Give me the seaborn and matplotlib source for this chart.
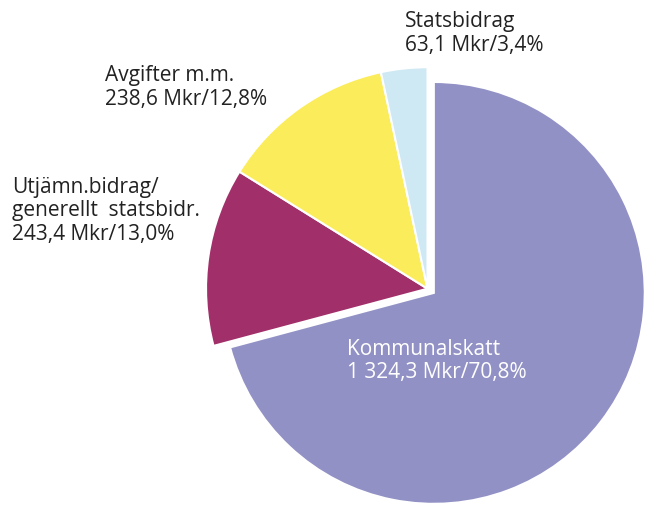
import matplotlib
matplotlib.use("Agg")
import matplotlib.pyplot as plt
import seaborn as sns

# Intäkter (Mkr) och andel
categories = ["Kommunalskatt", "Utjämn.bidrag/\ngenerellt  statsbidr.", "Avgifter m.m.", "Statsbidrag"]
values = [1324.3, 243.4, 238.6, 63.1]
shares = ["70,8%", "13,0%", "12,8%", "3,4%"]
value_labels = ["1 324,3", "243,4", "238,6", "63,1"]
colors = ["#9191c5", "#a12f69", "#fbec5c", "#cfe9f4"]

sns.set_style("white")
plt.rcParams['font.family'] = ['Open Sans', 'DejaVu Sans']

fig = plt.figure(figsize=(6.48, 5.05), dpi=100)
ax = fig.add_axes([0.344, 0.002, 0.651, 0.836])
pal = sns.color_palette(colors)

# stor sektor
big, _ = ax.pie(values, colors=pal, startangle=90, counterclock=False,
                wedgeprops=dict(edgecolor="white", linewidth=1.5))
# små sektorer, utdragna som en grupp
small, _ = ax.pie(values, colors=pal, startangle=90, counterclock=False,
                  radius=1.05, center=(-0.03, 0.02),
                  wedgeprops=dict(edgecolor="white", linewidth=1.5))
for i, w in enumerate(big):
    w.set_visible(i == 0)
    w.set_clip_on(False)
for i, w in enumerate(small):
    w.set_visible(i != 0)
    w.set_clip_on(False)

ax.set_xlim(-1, 1)
ax.set_ylim(-1, 1)
ax.set_aspect("equal")
ax.axis("off")

texts = [f"{c}\n{v} Mkr/{s}" for c, v, s in zip(categories, value_labels, shares)]
# placering av etiketter
pos = [(-0.41, -0.218), (-2.0, 0.55), (-1.56, 1.08), (-0.137, 1.336)]
txtcol = ["white", "#222222", "#222222", "#222222"]
for t, (x, y), c in zip(texts, pos, txtcol):
    ax.text(x, y, t, ha="left", va="top", fontsize=15, color=c,
            linespacing=1.15, clip_on=False)

fig.savefig("out.png", dpi=100)
